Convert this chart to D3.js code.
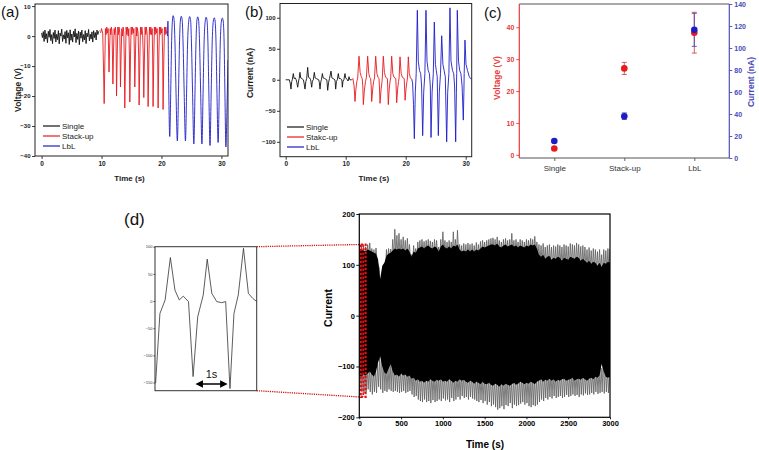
<!DOCTYPE html>
<html><head><meta charset="utf-8">
<script src="https://cdn.jsdelivr.net/npm/d3@7"></script>
<style>
body{margin:0;background:#fff}
svg{display:block}
text{font-family:"Liberation Sans",Arial,sans-serif}
</style>
</head><body>
<svg id="c" width="759" height="450"></svg>
<script>
// ---------------- DATA ----------------
// (a) voltage traces
const timeTicksAB = [0, 10, 20, 30];
const voltTicksA = [10, 0, -10, -20, -30, -40];
const singleA_dt = 0.14;
const singleA_V = [1,-0.5,1.5,-1.8,2,-1,0.8,-2.2,1.6,-0.4,2.2,-1.5,0.5,-2.5,1.2,-0.8,2,-2,0.6,-1.2,
  1.8,-2.6,1,0,2.3,-1.8,0.4,-1,1.5,-2.4,1.9,-0.6,1.1,-2.8,2.1,-1.4,0.7,-2,1.6,-0.3,
  2.4,-2.2,0.9,-1.1,1.7,-2.9,1.3,-0.7,2,-1.9,0.5,-1.3,1.8,-2.5,1,-0.2,2.2,-1.6,0.6,-1,
  1.4,-2,1.8,-0.5,1.2,-1.3,2,0.5,1.5,1.8];
const stackA = [[9.85,1],[10.0,2.5],[10.2,1],[10.3,-8],[10.44,-22.5],[10.56,-8],[10.65,2.5],[10.77,0.5],[10.87,3],[11.0,1],[11.1,2.5],
  [11.18,-5],[11.25,-12],[11.35,-4],[11.45,2.5],[11.55,0.5],[11.65,3],[11.75,1.5],[11.82,-6],
  [11.9,-16],[12.0,-5],[12.1,2.5],[12.2,0.5],[12.3,3],[12.4,1],[12.45,-6],
  [12.5,-20],[12.62,-6],[12.72,3],[12.82,0.5],[12.92,3],[13.05,1],[13.1,-6],
  [13.16,-17],[13.28,-5],[13.38,2.5],[13.5,0],[13.6,3],[13.72,1],[13.8,-8],
  [13.88,-24],[14.0,-8],[14.1,3],[14.22,0.5],[14.32,3],[14.45,0],[14.55,2.5],[14.65,-6],
  [14.72,-22],[14.84,-6],[14.94,3],[15.06,0.5],[15.16,3],[15.3,1],[15.4,2.5],[15.48,-6],
  [15.55,-17],[15.67,-5],[15.77,3],[15.88,0],[15.98,2.8],[16.1,1],[16.2,-7],
  [16.27,-23],[16.4,-7],[16.5,3],[16.62,0.5],[16.72,3],[16.85,1],[16.97,-7],
  [17.05,-20.5],[17.17,-6],[17.27,3],[17.38,0.5],[17.48,3],[17.6,1],[17.7,-7],
  [17.77,-23.5],[17.9,-7],[18.0,3],[18.12,0.5],[18.22,3],[18.35,0.5],[18.45,2.5],[18.53,-7],
  [18.6,-23.5],[18.72,-7],[18.82,3],[18.94,0.5],[19.04,3],[19.18,1],[19.28,2.5],[19.37,-7],
  [19.44,-24],[19.56,-7],[19.66,3],[19.78,0.5],[19.88,3],[20.0,1],[20.1,2.5],[20.2,-7],
  [20.27,-24.5],[20.4,-7],[20.5,3],[20.62,0.5],[20.72,3],[20.85,1],[20.95,0.5]];
const lblA = [[21.0,0],[21.08,5],[21.18,-12],[21.38,-33.5],[21.55,-18],[21.68,-3],[21.82,5],[21.95,6.8],[22.1,5.5],[22.25,-2],[22.42,-18],
  [22.65,-35],[22.85,-18],[23.0,-3],[23.15,5],[23.3,6.6],[23.45,5.5],[23.6,-2],[23.78,-18],
  [24.0,-35],[24.2,-18],[24.35,-3],[24.55,5],[24.7,6.5],[24.85,5.5],[25.0,-2],[25.18,-18],
  [25.4,-36],[25.6,-18],[25.75,-3],[25.9,5],[26.05,6.4],[26.2,5.3],[26.35,-2],[26.53,-18],
  [26.75,-36],[26.95,-18],[27.1,-3],[27.3,5],[27.45,6.3],[27.6,5.2],[27.75,-2],[27.9,-18],
  [28.1,-36.5],[28.3,-18],[28.45,-3],[28.65,5],[28.8,6.1],[28.95,5],[29.1,-2],[29.25,-18],
  [29.45,-35.5],[29.65,-18],[29.8,-3],[30.0,5],[30.15,6],[30.3,5],[30.45,-2],[30.58,-18],
  [30.75,-37],[30.95,-22],[31.1,-8]];

// (b) current traces
const currTicksB = [100, 50, 0, -50, -100];
const singleB = [[0,0],[0.6,0],[0.75,-5],[0.88,-15],[1.0,-3],[1.1,0],[1.27,10],[1.4,2],[1.6,3],[1.75,0],
  [1.85,-4],[2.0,-12],[2.15,-2],[2.25,2],[2.38,12],[2.5,3],[2.7,2],[2.95,0],
  [3.05,-5],[3.22,-15],[3.35,-3],[3.5,2],[3.66,20],[3.8,4],[4.0,3],[4.15,0],
  [4.2,-3],[4.33,-12],[4.45,-2],[4.6,0],[4.77,12],[4.9,3],[5.1,2],[5.5,0],
  [5.6,-4],[5.72,-15],[5.85,-3],[5.95,0],[6.11,10],[6.25,3],[6.5,2],[6.85,0],
  [6.9,-5],[7.0,-17],[7.15,-4],[7.3,2],[7.55,14],[7.7,3],[7.9,2],[8.2,0],
  [8.25,-4],[8.33,-15],[8.45,-3],[8.6,0],[8.77,10],[8.9,2],[9.1,2],[9.35,0],
  [9.38,-3],[9.44,-12],[9.55,-2],[9.7,0],[9.88,10],[10.0,3],[10.2,1],[10.4,-2],[10.55,5],[10.7,0],[11.0,0]];
const stackB = [[11.0,0],[11.2,2],[11.4,-10],[11.55,-35],[11.7,-15],[11.85,-3],[12.0,3],[12.22,38],[12.4,12],[12.6,5],[12.75,2],
  [12.85,-10],[12.94,-40],[13.1,-18],[13.3,-3],[13.45,4],[13.66,38],[13.85,10],[14.0,4],[14.15,2],
  [14.25,-10],[14.33,-35],[14.5,-15],[14.65,-3],[14.8,3],[15.0,38],[15.2,10],[15.4,4],[15.55,2],
  [15.62,-10],[15.72,-38],[15.9,-15],[16.05,-3],[16.1,3],[16.27,38],[16.45,12],[16.65,4],[16.95,2],
  [17.0,-10],[17.1,-40],[17.25,-15],[17.4,-2],[17.5,3],[17.66,38],[17.85,10],[18.05,4],[18.35,2],
  [18.4,-10],[18.5,-37],[18.65,-15],[18.8,-3],[18.9,3],[19.05,37],[19.25,10],[19.45,4],[19.75,2],
  [19.8,-10],[19.9,-33],[20.05,-15],[20.2,-3],[20.3,3],[20.44,37],[20.6,10],[20.8,3],[21.0,1]];
const lblB = [[21.0,1],[21.15,-5],[21.3,-40],[21.44,-95],[21.6,-20],[21.75,10],[21.94,112],[22.1,30],[22.3,15],[22.5,10],[22.65,-10],
  [22.83,-90],[23.0,-20],[23.2,10],[23.38,112],[23.55,30],[23.75,15],[23.95,10],[24.1,-10],
  [24.22,-93],[24.4,-20],[24.6,10],[24.77,93],[24.95,25],[25.1,15],[25.25,5],
  [25.44,-90],[25.6,-20],[25.8,10],[26.0,71],[26.2,25],[26.4,15],[26.6,5],
  [26.83,-100],[27.0,-20],[27.2,10],[27.38,116],[27.55,30],[27.8,15],[28.0,10],[28.15,-10],
  [28.33,-100],[28.45,-20],[28.5,10],[28.6,112],[28.8,30],[29.0,15],[29.2,10],[29.4,-10],
  [29.6,-65],[29.7,-20],[29.75,10],[29.88,64],[30.05,25],[30.3,15],[30.6,5],[30.8,2],[31.0,2]];

// (c) summary
const categories = ["Single", "Stack-up", "LbL"];
const voltMean = [2.0, 27.1, 38.3];
const voltErr = [0.3, 1.9, 6.4];
const currMean = [15.5, 38, 116.5];
const currErr = [0.8, 3, 15];
const voltTicksC = [0, 10, 20, 30, 40];
const currTicksC = [0, 20, 40, 60, 80, 100, 120, 140];

// (d) inset (zoom of first seconds)
const insetT = [0.02,0.16,0.33,0.50,0.65,0.79,0.92,1.09,1.24,1.39,1.57,1.70,1.85,2.01,2.17,2.30,2.44,2.57,2.71,2.88,3.04,3.18,3.31];
const insetV = [-151,-23,2,80,20,2,9,-1,-139,-29,11,77,14,-1,-3,-1,-161,-23,11,97,14,5,-1];
const insetTicks = [100, 50, 0, -50, -100, -150];

// (d) long-term current: envelope sampled every 25 s (0..3000 s)
const longStep = 25;
const peakHi = [138,138,136,135,140,143,132,130,133,100,
  62,88,95,130,132,131,150,170,158,162,
  150,155,148,152,140,120,138,132,145,148,
  150,146,148,150,147,145,150,148,135,150,
  165,148,145,148,145,165,150,168,140,138,
  142,140,143,140,142,138,144,140,146,148,
  145,148,150,152,153,150,155,148,145,150,
  152,148,150,162,148,150,145,150,148,145,
  150,148,152,150,156,145,140,138,142,135,
  138,140,135,138,136,140,138,135,140,138,
  136,142,140,138,143,140,136,138,135,130,
  134,128,132,130,126,130,120,130,128,132,
  130];
const coreHi = [128,130,128,126,130,128,126,124,122,110,
  72,98,104,118,122,124,128,132,130,132,
  130,132,128,132,126,116,126,124,132,134,
  136,132,136,138,134,132,136,134,126,136,
  140,134,132,136,132,138,136,140,130,126,
  128,126,130,126,130,126,130,128,132,136,
  134,136,138,140,140,138,142,136,134,138,
  140,136,138,140,136,138,134,138,136,134,
  138,136,140,138,140,132,120,116,120,112,
  116,118,110,114,112,116,114,108,114,112,
  110,116,114,112,116,114,108,112,108,104,
  108,102,106,104,98,104,96,104,102,106,
  104];
const coreLo = [-118,-120,-116,-118,-114,-110,-116,-120,-110,-92,
  -80,-100,-112,-115,-105,-95,-110,-118,-116,-120,
  -114,-118,-116,-120,-118,-124,-122,-128,-125,-130,
  -128,-132,-128,-130,-125,-128,-130,-126,-128,-125,
  -130,-128,-130,-125,-128,-132,-128,-130,-125,-128,
  -126,-130,-132,-128,-130,-134,-130,-132,-135,-130,
  -134,-135,-132,-136,-138,-134,-136,-140,-135,-138,
  -134,-136,-138,-135,-132,-136,-134,-130,-132,-135,
  -132,-134,-130,-132,-135,-130,-128,-125,-130,-126,
  -128,-124,-128,-125,-130,-126,-128,-125,-124,-128,
  -126,-125,-122,-128,-125,-124,-126,-122,-125,-128,
  -124,-122,-125,-120,-122,-118,-95,-110,-120,-122,
  -120];
const peakLo = [-148,-150,-152,-150,-145,-150,-155,-150,-152,-140,
  -145,-152,-148,-150,-145,-148,-150,-148,-150,-152,
  -150,-148,-152,-150,-148,-155,-160,-158,-165,-168,
  -170,-165,-170,-168,-172,-166,-170,-168,-165,-168,
  -163,-167,-165,-170,-162,-168,-165,-160,-165,-158,
  -162,-160,-165,-160,-163,-165,-168,-170,-166,-172,
  -168,-175,-170,-178,-175,-180,-185,-182,-178,-184,
  -176,-178,-172,-182,-175,-178,-176,-173,-170,-175,
  -172,-178,-180,-176,-178,-175,-170,-165,-168,-162,
  -165,-160,-163,-158,-162,-160,-158,-162,-160,-156,
  -160,-158,-155,-158,-156,-160,-155,-157,-153,-156,
  -155,-152,-155,-150,-154,-152,-150,-153,-150,-152,
  -148];
const longTimeTicks = [0,500,1000,1500,2000,2500,3000];
const longCurrTicks = [200,100,0,-100,-200];
const zoomWindow = [0, 75];      // seconds highlighted by the red box
const zoomRange = [-160, 140];   // current range of the red box

// ---------------- DRAWING ----------------
const svg = d3.select("#c");
const RED = "#e8191e", BLK = "#111", BLUE = "#1d1dc8";

function styleAxis(sel, size, color, bold) {
  sel.select(".domain").remove();
  sel.selectAll(".tick line").attr("stroke", color).attr("stroke-width", 0.9);
  sel.selectAll(".tick text").attr("fill", color).attr("font-size", size)
     .attr("font-weight", bold ? "bold" : "normal")
     .attr("font-family", '"Liberation Sans", Arial, sans-serif');
}

function tracePanel(opts) {
  const g = svg.append("g");
  const x = d3.scaleLinear().domain(opts.xd).range(opts.xr);
  const y = d3.scaleLinear().domain(opts.yd).range(opts.yr);
  const id = "clip" + opts.name;
  g.append("clipPath").attr("id", id).append("rect")
    .attr("x", opts.xr[0]).attr("y", opts.yr[1])
    .attr("width", opts.xr[1] - opts.xr[0]).attr("height", opts.yr[0] - opts.yr[1]);
  const line = d3.line().x(d => x(d[0])).y(d => y(d[1]));
  const lineS = d3.line().x(d => x(d[0])).y(d => y(d[1])).curve(d3.curveMonotoneX);
  const pg = g.append("g").attr("clip-path", `url(#${id})`);
  opts.series.forEach(s => {
    pg.append("path").datum(s.data).attr("fill", "none").attr("stroke", s.color)
      .attr("stroke-width", 0.9).attr("stroke-linejoin", "round")
      .attr("d", s.smooth ? lineS : line);
  });
  g.append("rect").attr("x", opts.xr[0]).attr("y", opts.yr[1])
    .attr("width", opts.xr[1] - opts.xr[0]).attr("height", opts.yr[0] - opts.yr[1])
    .attr("fill", "none").attr("stroke", "#222").attr("stroke-width", 1);
  g.append("g").attr("transform", `translate(0,${opts.yr[0]})`)
    .call(d3.axisBottom(x).tickValues(opts.xt).tickSize(3).tickSizeOuter(0).tickPadding(2))
    .call(s => styleAxis(s, 6.5, "#222", true));
  g.append("g").attr("transform", `translate(${opts.xr[0]},0)`)
    .call(d3.axisLeft(y).tickValues(opts.yt).tickSize(3).tickSizeOuter(0).tickPadding(1.5))
    .call(s => styleAxis(s, 6, "#222", true));
  g.append("text").attr("x", (opts.xr[0] + opts.xr[1]) / 2 - 2).attr("y", 181)
    .attr("text-anchor", "middle").attr("font-size", 8).attr("font-weight", "bold")
    .attr("fill", "#222").text("Time (s)");
  g.append("text").attr("transform", `translate(${opts.ylabX},${opts.ylabY}) rotate(-90)`)
    .attr("text-anchor", "middle").attr("font-size", 8.5).attr("font-weight", "bold")
    .attr("fill", "#222").text(opts.ylab);
  // legend
  opts.series.forEach((s, i) => {
    const ly = opts.legY + i * 10;
    g.append("line").attr("x1", opts.legX).attr("x2", opts.legX + 17)
      .attr("y1", ly).attr("y2", ly).attr("stroke", s.color).attr("stroke-width", 1.2);
    g.append("text").attr("x", opts.legX + 19).attr("y", ly + 2.8)
      .attr("font-size", 8).attr("fill", "#222").text(s.label);
  });
  g.append("text").attr("x", opts.tagX).attr("y", 17).attr("font-size", 15)
    .attr("font-family", '"Open Sans", sans-serif').attr("fill", "#111").text(opts.tag);
}

// (a)
tracePanel({
  name: "A", xd: [-1.1, 31.1], xr: [35, 228], yd: [-40, 10.7], yr: [156, 4],
  xt: timeTicksAB, yt: voltTicksA, ylab: "Voltage (V)", ylabX: 21, ylabY: 90,
  legX: 43, legY: 126, tag: "(a)", tagX: 1,
  series: [
    {label: "Single", color: BLK, data: singleA_V.map((v, i) => [i * singleA_dt, v])},
    {label: "Stack-up", color: RED, data: stackA},
    {label: "LbL", color: BLUE, data: lblA, smooth: true}
  ]
});
// (b)
tracePanel({
  name: "B", xd: [-0.95, 31], xr: [280, 471.7], yd: [-124, 123], yr: [156.7, 3.5],
  xt: timeTicksAB, yt: currTicksB, ylab: "Current (nA)", ylabX: 253, ylabY: 73,
  legX: 287, legY: 127, tag: "(b)", tagX: 245,
  series: [
    {label: "Single", color: BLK, data: singleB},
    {label: "Stakc-up", color: RED, data: stackB},
    {label: "LbL", color: BLUE, data: lblB}
  ]
});

// (c)
{
  const g = svg.append("g");
  const x0 = 519.3, x1 = 729.3, yb = 158, yt = 4;
  const x = d3.scalePoint().domain(categories).range([x0, x1]).padding(0.5);
  const yv = d3.scaleLinear().domain([-1, 47.3]).range([yb, yt]);
  const yc = d3.scaleLinear().domain([0, 140]).range([yb, yt]);
  g.append("line").attr("x1", x0).attr("x2", x1).attr("y1", yt).attr("y2", yt).attr("stroke", "#555").attr("stroke-width", 1);
  g.append("line").attr("x1", x0).attr("x2", x1).attr("y1", yb).attr("y2", yb).attr("stroke", "#555").attr("stroke-width", 1.2);
  g.append("line").attr("x1", x0).attr("x2", x0).attr("y1", yt).attr("y2", yb).attr("stroke", "#e83a3a").attr("stroke-width", 1.2);
  g.append("line").attr("x1", x1).attr("x2", x1).attr("y1", yt).attr("y2", yb).attr("stroke", "#5050b8").attr("stroke-width", 1.2);
  g.append("g").attr("transform", `translate(0,${yb})`)
    .call(d3.axisBottom(x).tickSize(3).tickSizeOuter(0).tickPadding(4))
    .call(s => styleAxis(s, 8, "#333", false));
  g.selectAll(".tick line").attr("stroke", "#555");
  g.append("g").attr("transform", `translate(${x0},0)`)
    .call(d3.axisLeft(yv).tickValues(voltTicksC).tickSize(3).tickSizeOuter(0).tickPadding(2))
    .call(s => styleAxis(s, 7, "#e83a3a", true));
  g.append("g").attr("transform", `translate(${x1},0)`)
    .call(d3.axisRight(yc).tickValues(currTicksC).tickSize(3).tickSizeOuter(0).tickPadding(2))
    .call(s => styleAxis(s, 7, "#4848b8", true));
  g.append("text").attr("transform", `translate(500,78) rotate(-90)`).attr("text-anchor", "middle")
    .attr("font-size", 8.5).attr("font-weight", "bold").attr("fill", "#e83a3a").text("Voltage (V)");
  g.append("text").attr("transform", `translate(754,82) rotate(-90)`).attr("text-anchor", "middle")
    .attr("font-size", 8.5).attr("font-weight", "bold").attr("fill", "#4848b8").text("Current (nA)");
  const eb = (yS, mean, err, color) => {
    categories.forEach((c, i) => {
      const cx = x(c), lo = yS(mean[i] - err[i]), hi = yS(mean[i] + err[i]);
      g.append("line").attr("x1", cx).attr("x2", cx).attr("y1", lo).attr("y2", hi).attr("stroke", color).attr("stroke-width", 0.9);
      [lo, hi].forEach(yy => g.append("line").attr("x1", cx - 2.5).attr("x2", cx + 2.5).attr("y1", yy).attr("y2", yy).attr("stroke", color).attr("stroke-width", 0.9));
    });
  };
  eb(yv, voltMean, voltErr, "#c85050");
  eb(yc, currMean, currErr, "#5a4aa8");
  g.selectAll(".vpt").data(categories).enter().append("circle")
    .attr("cx", d => x(d)).attr("cy", (d, i) => yv(voltMean[i])).attr("r", 3.3).attr("fill", RED);
  g.selectAll(".cpt").data(categories).enter().append("circle")
    .attr("cx", d => x(d)).attr("cy", (d, i) => yc(currMean[i])).attr("r", 3.3).attr("fill", BLUE);
  g.append("text").attr("x", 484).attr("y", 18).attr("font-size", 15)
    .attr("font-family", '"Open Sans", sans-serif').attr("fill", "#111").text("(c)");
}

// (d)
{
  const g = svg.append("g");
  // inset
  const ix = d3.scaleLinear().domain([0, 3.31]).range([155, 256.7]);
  const iy = d3.scaleLinear().domain([-165, 100]).range([390.7, 246.7]);
  g.append("path").datum(insetT.map((t, i) => [t, insetV[i]]))
    .attr("fill", "none").attr("stroke", "#333").attr("stroke-width", 0.8)
    .attr("d", d3.line().x(d => ix(d[0])).y(d => iy(d[1])));
  g.append("rect").attr("x", 155).attr("y", 246.7).attr("width", 101.7).attr("height", 144)
    .attr("fill", "none").attr("stroke", "#333").attr("stroke-width", 1);
  g.append("g").attr("transform", "translate(155,0)")
    .call(d3.axisLeft(iy).tickValues(insetTicks).tickSize(1.5).tickSizeOuter(0).tickPadding(1))
    .call(s => styleAxis(s, 4, "#333", false));
  // 1s arrow
  const arrowLen = 1.0; // seconds
  const ax0 = ix(1.34), ax1 = ix(1.34 + arrowLen);
  const defs = svg.append("defs");
  ["s", "e"].forEach(k => {
    defs.append("marker").attr("id", "ar" + k).attr("viewBox", "0 0 10 10")
      .attr("refX", 5).attr("refY", 5).attr("markerWidth", 5).attr("markerHeight", 5)
      .attr("orient", k === "e" ? "auto" : "auto-start-reverse")
      .append("path").attr("d", "M0,0 L10,5 L0,10 z").attr("fill", "#000");
  });
  g.append("line").attr("x1", ax0 + 3).attr("x2", ax1 - 3).attr("y1", 384).attr("y2", 384)
    .attr("stroke", "#000").attr("stroke-width", 1.5)
    .attr("marker-start", "url(#ars)").attr("marker-end", "url(#are)");
  g.append("text").attr("x", (ax0 + ax1) / 2).attr("y", 378).attr("text-anchor", "middle")
    .attr("font-size", 11).attr("font-family", '"Open Sans", sans-serif').attr("fill", "#111").text("1s");
  g.append("text").attr("x", 124).attr("y", 225).attr("font-size", 17)
    .attr("font-family", '"Open Sans", sans-serif').attr("fill", "#111").text("(d)");

  // main
  const dx = d3.scaleLinear().domain([0, 3000]).range([359.3, 610]);
  const dy = d3.scaleLinear().domain([-200, 200]).range([417.3, 214]);
  const tD = peakHi.map((_, i) => i * longStep);
  g.append("clipPath").attr("id", "clipD").append("rect").attr("x", 359.3).attr("y", 214).attr("width", 250.7).attr("height", 203.3);
  const pg = g.append("g").attr("clip-path", "url(#clipD)");
  // zig-zag spikes: peak at sample, back to core level half a step later
  const half = longStep / 2;
  const hiPts = [], loPts = [];
  tD.forEach((t, i) => {
    hiPts.push([t, peakHi[i]], [t + half, coreHi[i] - 15]);
    loPts.push([t + half * 0.5, peakLo[i]], [t + half * 1.5, coreLo[i] + 15]);
  });
  const zl = d3.line().x(d => dx(d[0])).y(d => dy(d[1]));
  pg.append("path").datum(hiPts).attr("d", zl).attr("stroke", "#5a5a5a").attr("stroke-width", 0.8).attr("fill", "none");
  pg.append("path").datum(loPts).attr("d", zl).attr("stroke", "#5a5a5a").attr("stroke-width", 0.8).attr("fill", "none");
  pg.append("path").datum(tD)
    .attr("d", d3.area().x(t => dx(t)).y0((t, i) => dy(coreLo[i])).y1((t, i) => dy(coreHi[i])))
    .attr("fill", "#000");
  // red dashed zoom box
  const bx0 = dx(zoomWindow[0]) + 1.4, bx1 = dx(zoomWindow[1]);
  const by0 = dy(zoomRange[1]), by1 = dy(zoomRange[0]);
  g.append("rect").attr("x", bx0).attr("y", by0).attr("width", bx1 - bx0).attr("height", by1 - by0)
    .attr("fill", "none").attr("stroke", "#e01010").attr("stroke-width", 2.2).attr("stroke-dasharray", "2.5,1.5");
  g.append("line").attr("x1", (bx0 + bx1) / 2).attr("x2", (bx0 + bx1) / 2).attr("y1", by0).attr("y2", by1)
    .attr("stroke", "#e01010").attr("stroke-width", 1.6).attr("stroke-dasharray", "2.5,1.5");
  // dotted connectors
  [[100, zoomRange[1]], [-165, zoomRange[0]]].forEach(([iv, mv]) => {
    g.append("line").attr("x1", 256.7).attr("y1", iy(iv)).attr("x2", dx(0)).attr("y2", dy(mv))
      .attr("stroke", "#d01010").attr("stroke-width", 1.3).attr("stroke-dasharray", "1.2,1");
  });
  // frame + axes
  g.append("rect").attr("x", 359.3).attr("y", 214).attr("width", 250.7).attr("height", 203.3)
    .attr("fill", "none").attr("stroke", "#000").attr("stroke-width", 1.2);
  g.append("g").attr("transform", "translate(0,417.3)")
    .call(d3.axisBottom(dx).tickValues(longTimeTicks).tickFormat(d3.format("d")).tickSize(2).tickSizeOuter(0).tickPadding(1))
    .call(s => styleAxis(s, 7.5, "#000", true));
  g.append("g").attr("transform", "translate(359.3,0)")
    .call(d3.axisLeft(dy).tickValues(longCurrTicks).tickFormat(d3.format("d")).tickSize(3).tickSizeOuter(0).tickPadding(1.5))
    .call(s => styleAxis(s, 7.5, "#000", true));
  g.append("text").attr("x", 485).attr("y", 447.5).attr("text-anchor", "middle")
    .attr("font-size", 10).attr("font-weight", "bold").text("Time (s)");
  g.append("text").attr("transform", "translate(332,308) rotate(-90)").attr("text-anchor", "middle")
    .attr("font-size", 10.5).attr("font-weight", "bold").text("Current");
}
</script>
</body></html>
